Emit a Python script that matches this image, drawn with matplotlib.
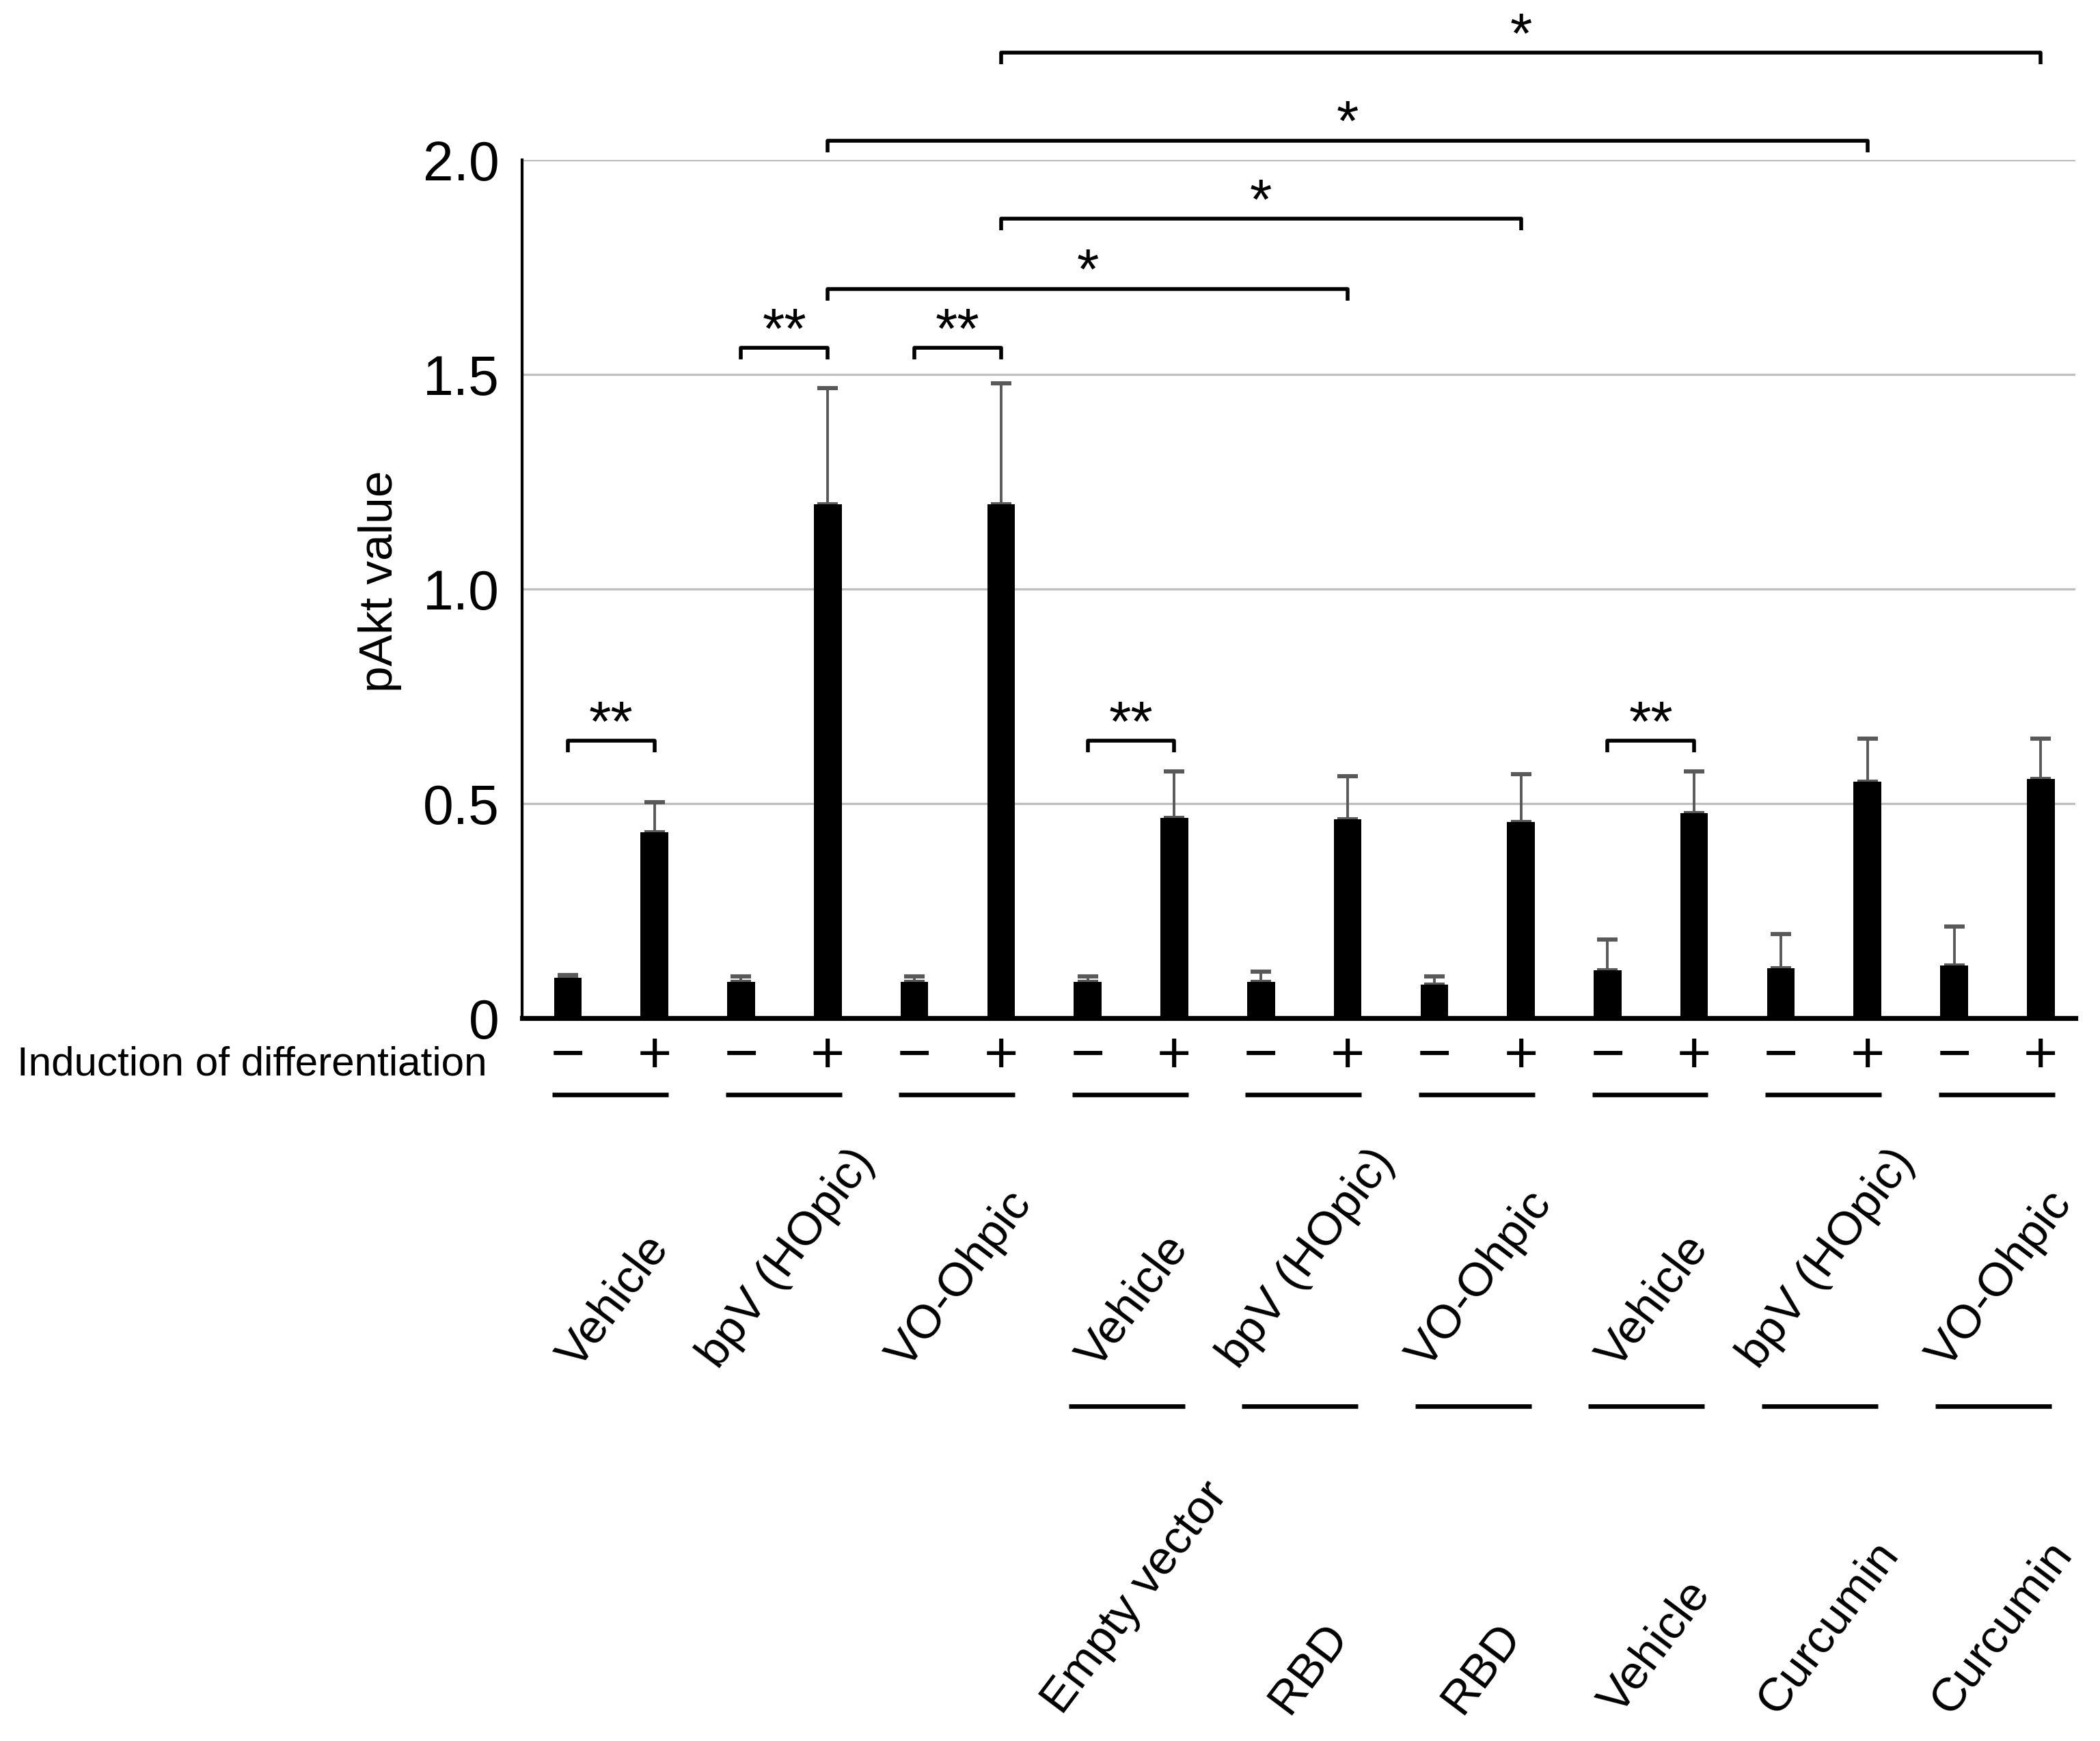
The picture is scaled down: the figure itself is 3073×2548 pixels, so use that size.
import numpy as np
import matplotlib
matplotlib.use('Agg')
import matplotlib.pyplot as plt

plt.rcParams['font.family'] = ['Liberation Sans', 'DejaVu Sans']

# pAkt values (18 bars, pairs of -/+ induction)
means = [0.094, 0.434, 0.085, 1.197, 0.085, 1.197, 0.085, 0.467, 0.085,
         0.463, 0.078, 0.457, 0.111, 0.478, 0.117, 0.551, 0.122, 0.557]
errs = [0.006, 0.069, 0.013, 0.271, 0.013, 0.283, 0.013, 0.108, 0.023,
        0.101, 0.020, 0.112, 0.073, 0.097, 0.079, 0.101, 0.092, 0.095]
induction = ['−', '+'] * 9

treatments = ['Vehicle', 'bpV (HOpic)', 'VO-Ohpic'] * 3
second_row = ['', '', '', 'Empty vector', 'RBD', 'RBD', 'Vehicle', 'Curcumin', 'Curcumin']

# significance brackets: (left bar, right bar, height, stars)
brackets = [(0, 1, 0.646, '**'), (2, 3, 1.562, '**'), (4, 5, 1.562, '**'),
            (6, 7, 0.646, '**'), (12, 13, 0.646, '**'),
            (3, 9, 1.700, '*'), (5, 11, 1.863, '*'),
            (3, 15, 2.045, '*'), (5, 17, 2.250, '*')]

yticks = [0, 0.5, 1.0, 1.5, 2.0]
yticklabels = ['0', '0.5', '1.0', '1.5', '2.0']

fig = plt.figure(figsize=(15.365, 12.74), dpi=200)
ax = fig.add_axes([0.2486, 0.4152, 0.7397, 0.4929])

x = np.arange(len(means))
ax.bar(x, means, width=0.32, color='black', zorder=3)
ax.errorbar(x, means, yerr=[np.zeros(len(errs)), errs], fmt='none',
            ecolor='#595959', elinewidth=1.4, capsize=5.4, capthick=2.2, zorder=2)

ax.set_xlim(-0.528, 17.4)
ax.set_ylim(0, 2.0)
ax.set_yticks(yticks)
ax.set_yticklabels(yticklabels, fontsize=29)
ax.tick_params(axis='y', length=0, pad=12)
ax.set_xticks([])
ax.yaxis.grid(True, color='#bfbfbf', linewidth=1.2, zorder=0)
ax.set_axisbelow(True)
for s in ['top', 'right']:
    ax.spines[s].set_visible(False)
ax.spines['left'].set_linewidth(1.5)
ax.spines['bottom'].set_linewidth(2.6)
ax.spines['bottom'].set_zorder(4)

fig.text(0.181, 0.666, 'pAkt value', rotation=90, ha='center', va='center', fontsize=25)

# significance brackets
for a, b, y, lab in brackets:
    ax.plot([a, a, b, b], [y - 0.027, y, y, y - 0.027], color='black',
            linewidth=2.0, clip_on=False, solid_capstyle='butt')
    ax.text((a + b) / 2, y, lab, ha='center', va='baseline',
            fontsize=30, clip_on=False)

# induction row
ax.text(-0.93, -0.108, 'Induction of differentiation', ha='right', va='center',
        fontsize=21.7, clip_on=False)
for i, sign in enumerate(induction):
    ax.text(i, -0.092, sign, ha='center', va='center', fontsize=31, clip_on=False)

# group underlines and rotated labels
for g in range(9):
    c = 2 * g + 0.5
    ax.plot([c - 0.68, c + 0.66], [-0.179, -0.179], color='black',
            linewidth=2.4, clip_on=False, solid_capstyle='butt')
    ax.text(c + 0.03, -0.835, treatments[g], rotation=53, ha='center',
            va='bottom', fontsize=25, clip_on=False)
    if second_row[g]:
        ax.plot([c - 0.72, c + 0.62], [-0.904, -0.904], color='black',
                linewidth=2.4, clip_on=False, solid_capstyle='butt')
        ax.text(c + 0.05, -1.64, second_row[g], rotation=53, ha='center',
                va='bottom', fontsize=25, clip_on=False)

fig.savefig('out.png', dpi=200)
